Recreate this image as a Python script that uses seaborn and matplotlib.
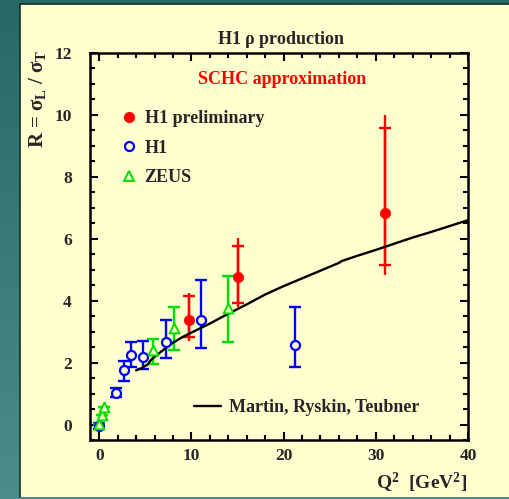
import numpy as np
import pandas as pd
import matplotlib
matplotlib.use("Agg")
import matplotlib.pyplot as plt
import seaborn as sns
from matplotlib.lines import Line2D
from matplotlib.patches import Rectangle
from matplotlib.ticker import MultipleLocator

# ---- data -------------------------------------------------------------
# H1 preliminary (filled red): central value, stat and total error limits
h1p_q2 = [9.7, 15.1, 31.0]
h1p_r = [3.37, 4.75, 6.82]
h1p_stat_hi = [4.14, 5.78, 9.58]
h1p_stat_lo = [2.82, 3.93, 5.16]
h1p_tot_hi = [4.25, 6.04, 10.0]
h1p_tot_lo = [2.71, 3.80, 4.82]

# H1 published (open blue circles)
h1_q2 = [0.0, 1.8, 2.7, 3.4, 4.8, 7.2, 11.0, 21.2]
h1_r = [-0.06, 1.02, 1.75, 2.23, 2.19, 2.66, 3.36, 2.57]
h1_hi = [0.06, 1.17, 2.05, 2.65, 2.69, 3.37, 4.68, 3.78]
h1_lo = [-0.16, 0.88, 1.40, 1.85, 1.80, 2.14, 2.48, 1.86]

# ZEUS (open green triangles)
zeus_q2 = [0.0, 0.35, 0.55, 5.8, 8.1, 14.0]
zeus_r = [0.02, 0.32, 0.55, 2.41, 3.13, 3.75]
zeus_hi = [0.02, 0.32, 0.55, 2.77, 3.81, 4.79]
zeus_lo = [0.02, 0.32, 0.55, 1.95, 2.40, 2.66]

# Martin, Ryskin, Teubner prediction
mrt_q2 = [4.0, 4.6, 5.3, 5.6, 5.9, 7.0, 8.0, 9.0, 10.0, 12.0, 14.0, 16.0,
          17.5, 18.0, 20.0, 22.0, 24.0, 26.0, 26.3, 28.0, 30.0, 32.0, 34.0,
          36.0, 38.0, 40.0]
mrt_r = [1.75, 1.82, 1.95, 2.08, 2.16, 2.42, 2.64, 2.82, 2.97, 3.26, 3.58,
         3.88, 4.12, 4.20, 4.47, 4.72, 4.97, 5.22, 5.28, 5.45, 5.64, 5.84,
         6.04, 6.22, 6.41, 6.60]

h1p = pd.DataFrame({"Q2": h1p_q2, "R": h1p_r})
h1 = pd.DataFrame({"Q2": h1_q2, "R": h1_r})
zeus = pd.DataFrame({"Q2": zeus_q2, "R": zeus_r})
mrt = pd.DataFrame({"Q2": mrt_q2, "R": mrt_r})

# ---- style ------------------------------------------------------------
sns.set_style("ticks")
plt.rcParams["font.family"] = ["Liberation Serif", "DejaVu Serif"]
plt.rcParams["font.weight"] = "bold"
plt.rcParams["mathtext.fontset"] = "custom"
plt.rcParams["mathtext.rm"] = "Liberation Serif:bold"
plt.rcParams["mathtext.it"] = "Liberation Serif:bold"
plt.rcParams["mathtext.bf"] = "Liberation Serif:bold"

PANEL = "#fefecf"
RED, BLUE, GREEN = "#ff0000", "#0000ff", "#00e000"
FONT = {"family": "Liberation Serif", "weight": "bold", "size": 13}

fig = plt.figure(figsize=(5.09, 4.99), dpi=100)

# teal backdrop with a soft vertical gradient
bg = fig.add_axes([0, 0, 1, 1], zorder=-10)
top_c = np.array([0x27, 0x68, 0x68]) / 255
bot_c = np.array([0x4c, 0x8c, 0x8c]) / 255
t = np.linspace(0, 1, 256)[:, None, None]
grad = top_c * (1 - t) + bot_c * t
bg.imshow(grad, aspect="auto", extent=[0, 1, 0, 1])
bg.set_axis_off()

W, H = 509, 499
fig.patches.append(Rectangle((20 / W, 2 / H), 489 / W, 493 / H,
                             transform=fig.transFigure, facecolor=PANEL,
                             edgecolor="none", zorder=-5))
fig.add_artist(Line2D([20 / W, 20 / W], [2 / H, 495 / H],
                      transform=fig.transFigure, color="#10302f", lw=1.2))
fig.add_artist(Line2D([20 / W, 1], [495 / H, 495 / H],
                      transform=fig.transFigure, color="#10302f", lw=1.2))

ax = fig.add_axes([90 / W, 1 - 440 / H, 378 / W, 387 / H])
ax.set_facecolor(PANEL)

# ---- error bars -------------------------------------------------------
ew = 1.7
ax.errorbar(h1p_q2, h1p_r,
            yerr=[np.subtract(h1p_r, h1p_tot_lo), np.subtract(h1p_tot_hi, h1p_r)],
            fmt="none", ecolor=RED, elinewidth=ew, capsize=0)
ax.errorbar(h1p_q2, h1p_r,
            yerr=[np.subtract(h1p_r, h1p_stat_lo), np.subtract(h1p_stat_hi, h1p_r)],
            fmt="none", ecolor=RED, elinewidth=ew, capsize=4.5, capthick=ew)
ax.errorbar(h1_q2, h1_r,
            yerr=[np.subtract(h1_r, h1_lo), np.subtract(h1_hi, h1_r)],
            fmt="none", ecolor=BLUE, elinewidth=ew, capsize=4.5, capthick=ew)
ax.errorbar(zeus_q2, zeus_r,
            yerr=[np.subtract(zeus_r, zeus_lo), np.subtract(zeus_hi, zeus_r)],
            fmt="none", ecolor=GREEN, elinewidth=ew, capsize=4.5, capthick=ew)

# ---- theory curve and markers ----------------------------------------
sns.lineplot(data=mrt, x="Q2", y="R", color="black", linewidth=1.7,
             sort=False, ax=ax, zorder=3)
sns.scatterplot(data=h1p, x="Q2", y="R", marker="o", s=55, color=RED,
                edgecolor=RED, linewidth=0.5, ax=ax, zorder=4)
sns.scatterplot(data=h1, x="Q2", y="R", marker="o", s=42, fc=PANEL,
                ec=BLUE, linewidth=1.6, ax=ax, zorder=4)
sns.scatterplot(data=zeus, x="Q2", y="R", marker="^", s=50, fc=PANEL,
                ec=GREEN, linewidth=1.4, ax=ax, zorder=4)

# ---- axes -------------------------------------------------------------
ax.set_xlim(-1, 40)
ax.set_ylim(-0.5, 12)
ax.xaxis.set_major_locator(MultipleLocator(10))
ax.xaxis.set_minor_locator(MultipleLocator(2))
ax.yaxis.set_major_locator(MultipleLocator(2))
ax.yaxis.set_minor_locator(MultipleLocator(0.5))
ax.tick_params(which="both", direction="in", top=True, right=True,
               width=1.5, color="black")
ax.tick_params(which="major", length=6)
ax.tick_params(which="minor", length=3.5)
ax.tick_params(axis="y", which="major", pad=13, labelsize=12.5)
ax.tick_params(axis="x", which="major", pad=6, labelsize=12.5)
for lab in ax.get_xticklabels() + ax.get_yticklabels():
    lab.set_fontweight("bold")
for sp in ax.spines.values():
    sp.set_linewidth(1.8)
    sp.set_color("black")
ax.set_xlabel("")
ax.set_ylabel("")

# ---- text -------------------------------------------------------------
fig.text(281 / W, 1 - 39 / H, r"H1 $\rho$ production", ha="center",
         va="center", fontsize=13, fontweight="bold")
ax.text(0.509, 0.932, "SCHC approximation", transform=ax.transAxes,
        ha="center", va="center", color=RED, fontsize=13, fontweight="bold")
fig.text(37 / W, 1 - 99 / H, r"R = $\sigma_{L}$ / $\sigma_{T}$", rotation=90,
         ha="center", va="center", fontsize=15, fontweight="bold")
fig.text(467 / W, 1 - 483 / H, r"Q$^{2}$  [GeV$^{2}$]", ha="right",
         va="center", fontsize=14, fontweight="bold")

# ---- legends ----------------------------------------------------------
handles = [
    Line2D([], [], ls="none", marker="o", ms=7, color=RED, mec=RED),
    Line2D([], [], ls="none", marker="o", ms=6.5, mfc="none", mec=BLUE, mew=1.6),
    Line2D([], [], ls="none", marker="^", ms=7, mfc="none", mec=GREEN, mew=1.4),
]
leg1 = ax.legend(handles, ["H1 preliminary", "H1", "ZEUS"], loc="upper left",
                 bbox_to_anchor=(0.037, 0.895), frameon=False, handlelength=1.0,
                 handletextpad=0.35, labelspacing=0.7, prop=FONT)
ax.add_artist(leg1)
ax.legend([Line2D([], [], color="black", lw=1.7)], ["Martin, Ryskin, Teubner"],
          loc="lower left", bbox_to_anchor=(0.232, 0.02), frameon=False,
          handlelength=1.5, handletextpad=0.45, prop=FONT)

fig.savefig("out.png", dpi=100)
